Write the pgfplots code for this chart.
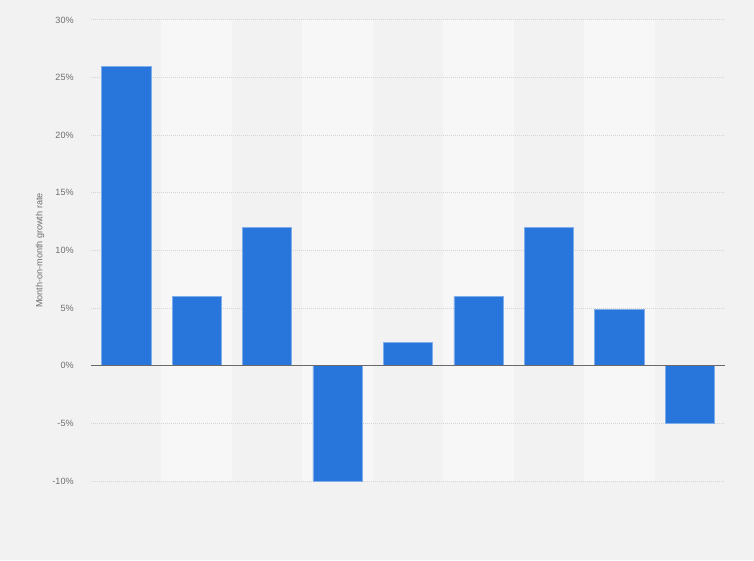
\documentclass[border=0pt]{standalone}
\usepackage{pgfplots}
\pgfplotsset{compat=1.18}
\usepackage{fontspec}
\setmainfont{Liberation Sans}

\definecolor{bg}{HTML}{F2F2F2}
\definecolor{band}{HTML}{F7F7F7}
\definecolor{barblue}{RGB}{40,118,219}
\definecolor{ticktext}{HTML}{6E6E6E}
\definecolor{gridc}{HTML}{D4D4D4}
\definecolor{zeroc}{HTML}{6A6A6A}

\pgfplotstableread{
x   y
0   26
1   6
2   12
3   -10
4   2
5   6
6   12
7   4.9
8   -5
}\growth

\begin{document}
\begin{tikzpicture}
  % canvas: 754 x 560 px at 0.75 pt per px; plot box 91..725 x 20..481 px
  \begin{axis}[
    set layers,
    at={(68.25pt,59.25pt)}, anchor=south west,
    scale only axis,
    width=475.5pt, height=345.75pt,
    xmin=-0.5, xmax=8.5,
    ymin=-10, ymax=30,
    xtick=\empty,
    ytick={-10,-5,...,30},
    major tick length=0pt,
    axis line style={draw=none},
    ymajorgrids,
    major grid style={gridc, dash pattern=on 0.75pt off 0.75pt, line width=0.75pt},
    /pgf/number format/assume math mode=true,
    yticklabel={\pgfmathprintnumber{\tick}\%},
    y tick label style={font=\fontsize{6.8}{8}\selectfont, text=ticktext, anchor=east, xshift=-9.5pt},
    ylabel={Month-on-month growth rate},
    every axis y label/.style={at={(axis description cs:-0.0804,0.5)}, rotate=90, anchor=center,
      font=\fontsize{6.8}{8}\selectfont, text=ticktext},
    clip=false,
  ]
    \begin{pgfonlayer}{axis background}
      \fill[bg] (rel axis cs:-0.14353,-0.17137) rectangle (rel axis cs:1.04574,1.04338);
      \fill[band] (axis cs:0.5,-10) rectangle (axis cs:1.5,30);
      \fill[band] (axis cs:2.5,-10) rectangle (axis cs:3.5,30);
      \fill[band] (axis cs:4.5,-10) rectangle (axis cs:5.5,30);
      \fill[band] (axis cs:6.5,-10) rectangle (axis cs:7.5,30);
    \end{pgfonlayer}
    \addplot[ybar, bar width=0.7, fill=barblue, draw=barblue!60!white, line width=0.4pt]
      table[x=x, y=y] {\growth};
    \draw[zeroc, line width=1pt] (axis cs:-0.5,0) -- (axis cs:8.5,0);
  \end{axis}
\end{tikzpicture}
\end{document}
